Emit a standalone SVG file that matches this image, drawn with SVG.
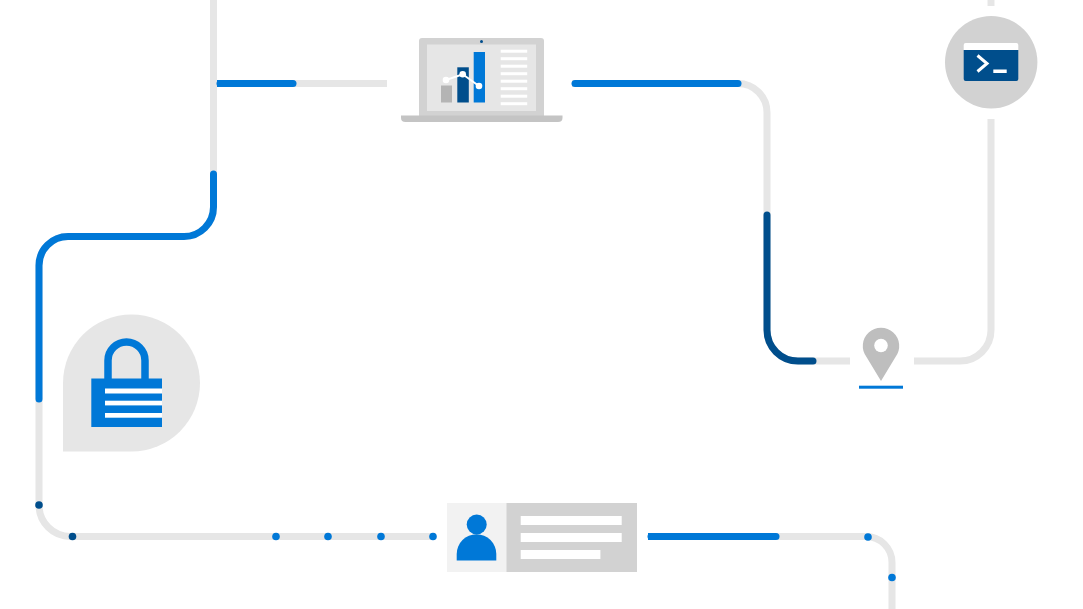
<svg xmlns="http://www.w3.org/2000/svg" width="1083" height="609" viewBox="0 0 1083 609">
<style>
.g{fill:none;stroke:#e6e6e6;stroke-width:7}
.b{fill:none;stroke:#0078d7;stroke-width:7;stroke-linecap:round}
.d{fill:none;stroke:#004e8c;stroke-width:7;stroke-linecap:round}
.db{fill:#0078d7}.dd{fill:#004e8c}.w{fill:#fff}
</style>
<rect width="1083" height="609" fill="#fff"/>
<g id="connectors">
<path class="g" d="M213.500 0V207A29.500 29.500 0 0 1 184 236.500H68A29 29 0 0 0 39 265.500V505A31.500 31.500 0 0 0 70.500 536.500H433"/>
<path class="g" d="M217 83.500H387"/>
<path class="g" d="M572 83.500H738A29 29 0 0 1 767 112.500V330A31 31 0 0 0 798 361H850"/>
<path class="g" d="M914 361H960A31 31 0 0 0 991 330V119"/>
<path class="g" d="M991 0V6"/>
<path class="g" d="M648 536.500H866A26 26 0 0 1 892 562.500V609"/>
<path class="b" d="M220 83.500H293"/>
<path class="g" style="stroke:#0078d7" d="M217 83.500H221"/>
<path class="b" d="M575 83.500H738"/>
<path class="b" d="M213.500 174V207A29.500 29.500 0 0 1 184 236.500H68A29 29 0 0 0 39 265.500V399"/>
<path class="d" d="M767 215V330A31 31 0 0 0 798 361H813"/>
<path class="b" d="M651 536.500H776"/>
<path class="g" style="stroke:#0078d7" d="M648 536.500H652"/>
<circle class="dd" cx="39" cy="505" r="3.800"/>
<circle class="dd" cx="72.500" cy="536.500" r="3.800"/>
<circle class="db" cx="276" cy="536.500" r="3.800"/>
<circle class="db" cx="328" cy="536.500" r="3.800"/>
<circle class="db" cx="381" cy="536.500" r="3.800"/>
<circle class="db" cx="433" cy="536.500" r="3.800"/>
<circle class="db" cx="868" cy="537" r="3.800"/>
<circle class="db" cx="892" cy="577.500" r="3.800"/>
</g>
<g id="laptop">
<path d="M419 116V41Q419 38 422 38H541Q544 38 544 41V116Z" fill="#d2d2d2"/>
<rect x="427" y="44.500" width="109" height="66.500" fill="#e6e6e6"/>
<circle class="dd" cx="481.500" cy="41.500" r="1.500"/>
<path d="M401 115.500H562.500V118Q562.500 122 558 122H405.500Q401 122 401 118Z" fill="#c4c4c4"/>
<rect x="441" y="85.500" width="11" height="17" fill="#b4b4b4"/>
<rect class="dd" x="457.300" y="67.300" width="11.500" height="35.200"/>
<rect class="db" x="473.700" y="52" width="11.300" height="50.500"/>
<path d="M446 80L462.700 74.300L479 86" fill="none" stroke="#fff" stroke-width="2"/>
<circle class="w" cx="446" cy="80" r="3.300"/><circle class="w" cx="462.700" cy="74.300" r="3.300"/><circle class="w" cx="479" cy="86" r="3.300"/>
<g class="w">
<rect x="500.700" y="49.700" width="26.500" height="3"/>
<rect x="500.700" y="57.200" width="26.500" height="3"/>
<rect x="500.700" y="64.700" width="26.500" height="3"/>
<rect x="500.700" y="72.200" width="26.500" height="3"/>
<rect x="500.700" y="79.700" width="26.500" height="3"/>
<rect x="500.700" y="87.200" width="26.500" height="3"/>
<rect x="500.700" y="94.700" width="26.500" height="3"/>
<rect x="500.700" y="102.200" width="26.500" height="3"/>
</g>
</g>
<g id="terminal">
<circle cx="991.200" cy="62.200" r="46.200" fill="#d2d2d2"/>
<path d="M963.700 50V45Q963.700 43 965.700 43H1016.300Q1018.300 43 1018.300 45V50Z" fill="#fff"/>
<path d="M963.700 50H1018.300V79Q1018.300 81 1016.300 81H965.700Q963.700 81 963.700 79Z" fill="#004e8c"/>
<path d="M977.500 55.500L987 63.500L977.500 71.500" fill="none" stroke="#fff" stroke-width="3"/>
<rect class="w" x="993.300" y="69.500" width="13.400" height="3.500"/>
</g>
<g id="pin">
<path d="M881 381L866.500 357A18.200 18.200 0 1 1 895.500 357Z" fill="#bebebe"/>
<circle class="w" cx="881" cy="345.500" r="6.800"/>
<rect class="db" x="859" y="385.700" width="44" height="3"/>
</g>
<g id="lock">
<path d="M63 451.500V383A68.500 68.500 0 1 1 131.500 451.500Z" fill="#e6e6e6"/>
<path d="M108 380V360.500A18.500 18.500 0 0 1 145 360.500V380" fill="none" stroke="#0078d7" stroke-width="7.500"/>
<rect class="db" x="91.300" y="378.500" width="70.700" height="48.500"/>
<g class="w">
<rect x="105" y="388.500" width="57" height="5"/>
<rect x="105" y="400.700" width="57" height="4.700"/>
<rect x="105" y="413" width="57" height="4.700"/>
</g>
</g>
<g id="profile">
<rect x="447" y="503" width="60" height="69" fill="#f2f2f2"/>
<rect x="506.500" y="503" width="130.500" height="69" fill="#d2d2d2"/>
<circle class="db" cx="476.700" cy="524.500" r="10"/>
<path d="M456.700 560.500V554A19.800 19.800 0 0 1 496.300 554V560.500Z" fill="#0078d7"/>
<g class="w">
<rect x="520.700" y="516" width="101" height="9"/>
<rect x="520.700" y="533" width="101" height="9"/>
<rect x="520.700" y="550" width="79.700" height="9"/>
</g>
</g>
</svg>
